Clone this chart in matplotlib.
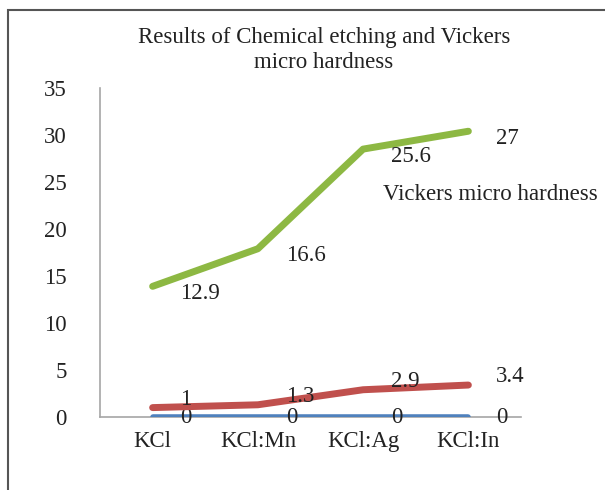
import matplotlib.pyplot as plt
from matplotlib.patches import Rectangle
import numpy as np

plt.rcParams['font.family'] = ['Liberation Serif', 'DejaVu Serif']

categories = ["KCl", "KCl:Mn", "KCl:Ag", "KCl:In"]
etch_blue = [0, 0, 0, 0]
etch_red = [1, 1.3, 2.9, 3.4]
vickers = [12.9, 16.6, 25.6, 27]
series_label = "Vickers micro hardness"
title = "Results of Chemical etching and Vickers\nmicro hardness"

# stacked line chart (values are drawn cumulative, labels show raw values)
series = [etch_blue, etch_red, vickers]
colors = ["#4F81BD", "#C0504D", "#8DB843"]
widths = [4, 5, 5]
label_dy = [0, 6, -5]

fig = plt.figure(figsize=(6.05, 4.9), dpi=100)
fig.patches.append(Rectangle((8 / 605, -0.1), 1.2, 1.1 - 10 / 490,
                             transform=fig.transFigure, fill=False,
                             edgecolor="#555555", lw=1.5))

ax = fig.add_axes([100 / 605, 73 / 490, 421 / 605, 329 / 490])
x = np.arange(len(categories))
base = np.zeros(len(categories))
for vals, c, w, dy in zip(series, colors, widths, label_dy):
    top = base + np.array(vals)
    ax.plot(x, top, color=c, lw=w, solid_capstyle="round", zorder=3)
    for xi, yi, v in zip(x, top, vals):
        ax.annotate(f"{v:g}", (xi, yi), xytext=(20, dy), textcoords="offset points",
                    ha="left", va="center", fontsize=16.5, color="#222222")
    base = top

ax.set_xlim(-0.5, 3.5)
ax.set_ylim(0, 35)
ax.set_yticks(range(0, 36, 5))
ax.set_xticks(x)
ax.set_xticklabels(categories)
ax.tick_params(axis="both", length=0, labelsize=16.5, colors="#222222")
ax.tick_params(axis="y", pad=24)
ax.tick_params(axis="x", pad=10)
for s in ["top", "right"]:
    ax.spines[s].set_visible(False)
for s in ["left", "bottom"]:
    ax.spines[s].set_color("#A6A6A6")
    ax.spines[s].set_linewidth(1.2)

fig.text(324 / 605, 1 - 50 / 490, title, ha="center", va="center",
         fontsize=16.5, color="#222222", linespacing=1.2)
fig.text(383 / 605, 1 - 195 / 490, series_label, ha="left", va="center",
         fontsize=16.5, color="#222222")

fig.savefig("out.png", dpi=100)
